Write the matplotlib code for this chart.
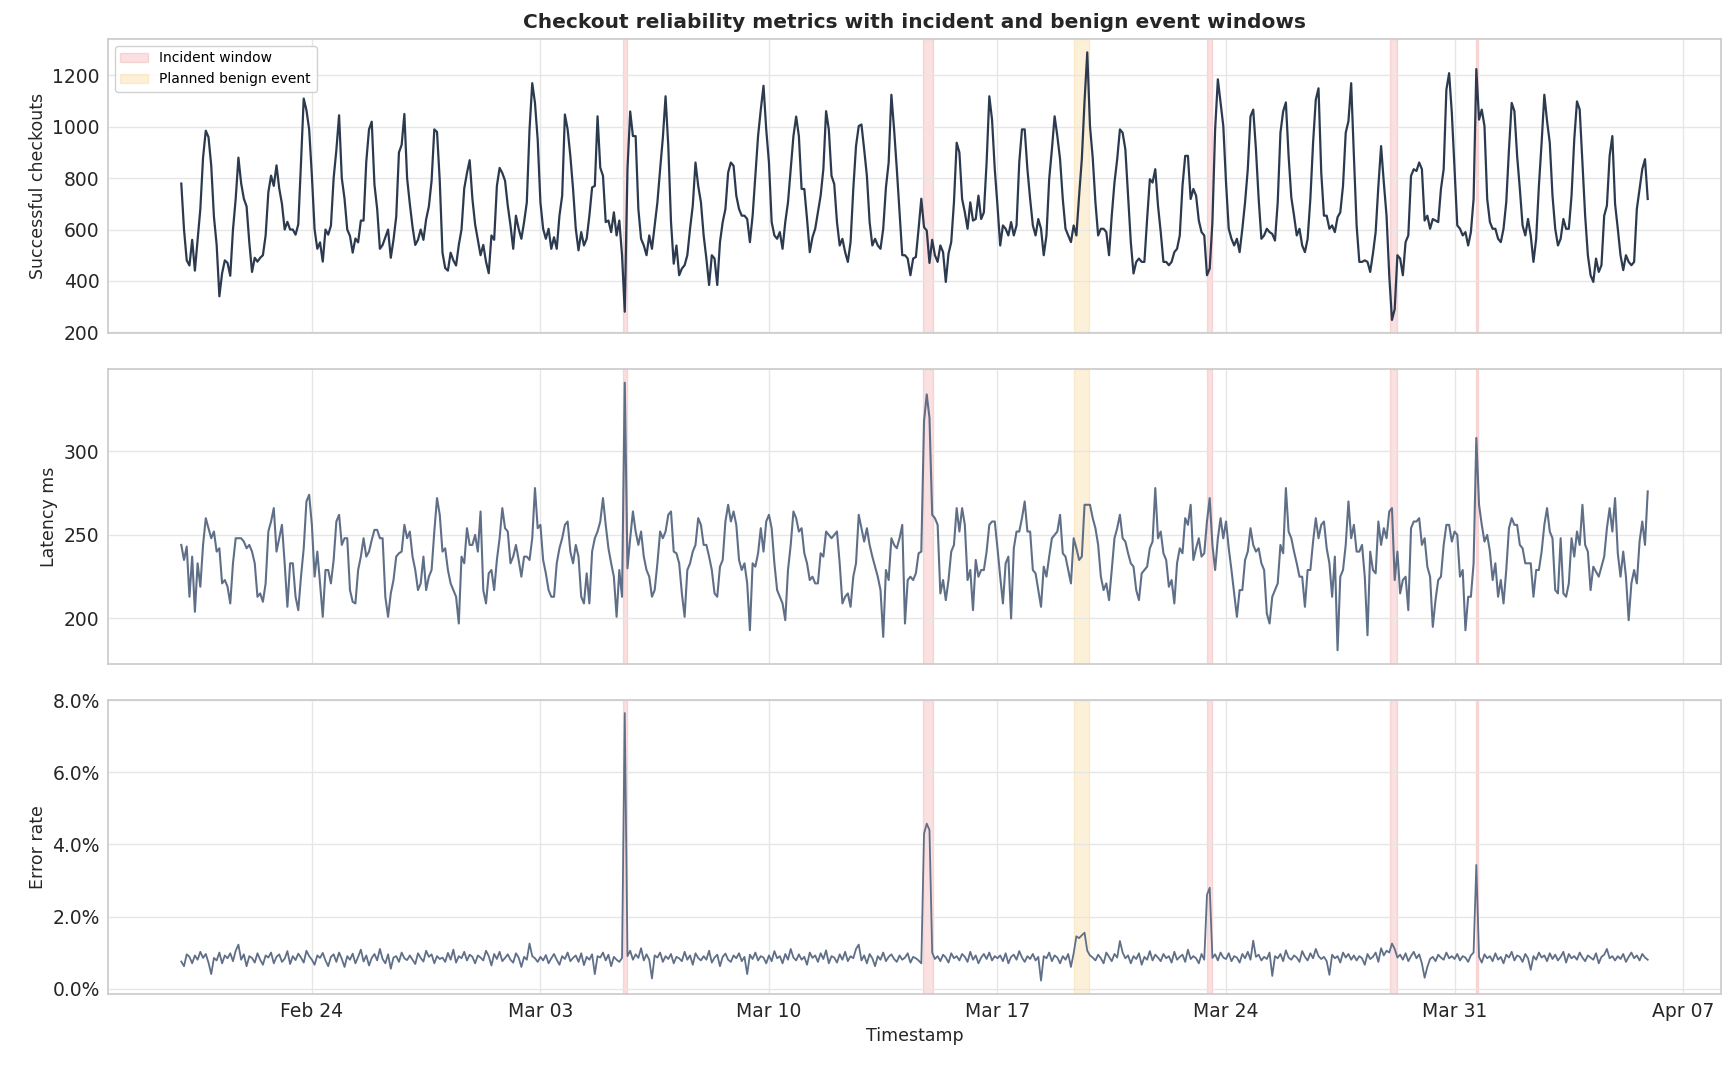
import numpy as np
import pandas as pd
import matplotlib
matplotlib.use("Agg")
import matplotlib.pyplot as plt
import matplotlib.dates as mdates
from matplotlib.ticker import PercentFormatter, MultipleLocator

# ---------------- data (2-hourly samples, one row per day) ----------------
START = "2025-02-20 00:00"
STEP = "2h"

CHECKOUTS = [
    [779, 600, 480, 460, 560, 440, 560, 680, 880, 985, 960, 850],    # Feb 20
    [650, 540, 340, 430, 480, 470, 420, 600, 720, 880, 780, 720],
    [690, 550, 435, 490, 475, 490, 500, 577, 745, 810, 770, 850],
    [760, 700, 600, 630, 600, 600, 580, 620, 860, 1110, 1065, 990],
    [810, 600, 525, 550, 475, 600, 580, 615, 800, 910, 1045, 800],  # Feb 24
    [720, 600, 575, 510, 565, 550, 635, 635, 865, 990, 1020, 775],
    [680, 525, 540, 570, 600, 490, 560, 650, 900, 930, 1050, 800],
    [700, 610, 540, 560, 600, 560, 640, 690, 790, 990, 980, 790],
    [510, 450, 440, 510, 480, 460, 540, 600, 760, 820, 870, 720],
    [620, 560, 500, 540, 475, 430, 577, 560, 770, 840, 820, 790],    # Mar 1
    [693, 616, 525, 654, 603, 564, 629, 706, 990, 1170, 1093, 950],
    [706, 603, 564, 603, 525, 570, 525, 654, 732, 1048, 990, 887],   # Mar 3
    [758, 603, 519, 590, 538, 564, 654, 764, 770, 1041, 841, 809],
    [629, 635, 590, 667, 577, 635, 500, 280, 835, 1060, 964, 964],   # Mar 5
    [680, 564, 538, 500, 577, 525, 616, 706, 835, 957, 1119, 925],
    [629, 467, 538, 422, 448, 461, 500, 603, 693, 861, 770, 706],
    [577, 487, 384, 500, 487, 384, 551, 629, 680, 822, 861, 848],
    [732, 680, 654, 654, 641, 551, 654, 809, 964, 1067, 1160, 990],
    [861, 629, 577, 564, 590, 525, 629, 706, 835, 964, 1040, 964],   # Mar 10
    [758, 758, 641, 512, 570, 603, 667, 732, 835, 1061, 990, 809],
    [777, 629, 538, 564, 512, 474, 551, 758, 925, 1003, 1009, 912],
    [809, 629, 538, 564, 538, 525, 603, 764, 861, 1125, 990, 835],
    [667, 500, 500, 487, 422, 487, 493, 603, 720, 609, 596, 470],    # Mar 14
    [560, 500, 474, 538, 512, 396, 506, 551, 706, 938, 900, 719],
    [667, 603, 706, 635, 641, 732, 641, 667, 861, 1119, 1028, 835],
    [693, 538, 616, 603, 577, 629, 577, 616, 861, 990, 990, 835],    # Mar 17
    [719, 616, 577, 641, 603, 500, 577, 796, 912, 1041, 964, 874],
    [719, 603, 577, 551, 616, 577, 732, 874, 1100, 1290, 1003, 880], # Mar 19
    [706, 577, 603, 603, 590, 500, 654, 783, 874, 990, 977, 912],
    [732, 551, 429, 474, 487, 474, 474, 641, 796, 783, 835, 693],
    [590, 474, 474, 461, 474, 512, 525, 577, 770, 887, 887, 719],
    [758, 732, 635, 590, 577, 422, 448, 629, 990, 1185, 1093, 1003], # Mar 23
    [783, 603, 564, 538, 564, 512, 603, 706, 835, 1041, 1067, 912],  # Mar 24
    [719, 564, 577, 603, 590, 583, 557, 706, 977, 1060, 1095, 887],
    [725, 654, 577, 603, 538, 512, 564, 719, 938, 1106, 1150, 822],
    [654, 654, 603, 616, 590, 648, 667, 770, 977, 1022, 1170, 887],
    [616, 474, 474, 480, 474, 435, 506, 590, 770, 925, 783, 654],
    [420, 248, 290, 500, 487, 422, 551, 577, 809, 835, 828, 861],    # Mar 29
    [835, 635, 654, 603, 641, 635, 629, 758, 835, 1145, 1209, 1054],
    [835, 616, 603, 577, 590, 538, 590, 719, 1225, 1028, 1067, 1003],# Mar 31
    [719, 629, 603, 603, 564, 551, 603, 706, 912, 1093, 1061, 887],
    [758, 616, 577, 641, 577, 474, 564, 770, 938, 1125, 1022, 938],
    [732, 603, 538, 564, 641, 603, 603, 732, 951, 1099, 1067, 861],
    [654, 500, 422, 396, 487, 435, 461, 654, 693, 887, 964, 700],
    [603, 500, 442, 500, 474, 461, 474, 680, 758, 835, 874, 719],    # Apr 5
]

LATENCY_MS = [
    [244, 235, 243, 213, 237, 204, 233, 219, 244, 260, 254, 248],
    [252, 240, 242, 221, 223, 219, 209, 233, 248, 248, 248, 246],
    [242, 244, 240, 233, 213, 215, 210, 221, 252, 258, 266, 240],
    [248, 256, 233, 207, 233, 233, 213, 205, 225, 242, 270, 274],
    [256, 225, 240, 221, 201, 229, 229, 221, 235, 258, 262, 244],
    [248, 248, 217, 210, 209, 229, 237, 248, 237, 240, 247, 253],
    [253, 248, 248, 213, 201, 215, 223, 237, 239, 240, 256, 248],
    [252, 237, 229, 217, 221, 237, 217, 225, 229, 252, 272, 262],
    [240, 242, 229, 221, 217, 213, 197, 237, 233, 254, 244, 244],
    [250, 240, 264, 217, 209, 227, 229, 217, 235, 248, 266, 254],
    [252, 233, 237, 244, 235, 225, 237, 237, 235, 248, 278, 254],
    [256, 235, 227, 217, 213, 213, 233, 242, 248, 256, 258, 240],
    [233, 244, 237, 213, 209, 227, 209, 240, 248, 252, 258, 272],
    [256, 242, 233, 225, 201, 229, 213, 341, 230, 248, 264, 252],
    [244, 252, 237, 229, 225, 213, 217, 233, 252, 248, 252, 262],
    [264, 240, 239, 233, 215, 201, 229, 233, 240, 244, 260, 256],
    [244, 244, 237, 229, 215, 213, 231, 235, 258, 268, 258, 264],
    [256, 235, 229, 233, 221, 193, 233, 231, 239, 254, 240, 258],
    [262, 254, 233, 217, 213, 209, 199, 229, 244, 264, 260, 252],
    [254, 239, 233, 223, 225, 221, 221, 239, 237, 252, 250, 248],
    [250, 252, 233, 209, 213, 215, 207, 225, 233, 262, 254, 246],
    [254, 244, 237, 231, 225, 217, 189, 229, 223, 248, 244, 242],
    [248, 256, 197, 223, 225, 223, 227, 239, 240, 318, 334, 320],
    [262, 260, 256, 215, 223, 211, 223, 240, 244, 266, 252, 266],
    [256, 223, 229, 205, 235, 225, 229, 229, 240, 256, 258, 258],
    [242, 225, 209, 233, 237, 200, 242, 252, 252, 260, 270, 252],
    [252, 229, 227, 217, 207, 231, 225, 237, 248, 250, 252, 262],
    [239, 237, 229, 221, 248, 242, 235, 237, 268, 268, 268, 260],
    [254, 244, 225, 217, 221, 211, 229, 248, 254, 262, 248, 246],
    [239, 233, 231, 217, 211, 227, 229, 231, 242, 246, 278, 248],
    [252, 239, 235, 219, 223, 209, 233, 242, 239, 260, 256, 268],
    [235, 242, 248, 237, 239, 258, 272, 244, 229, 248, 260, 248],
    [258, 242, 229, 215, 201, 217, 217, 235, 240, 254, 244, 240],
    [242, 233, 229, 203, 197, 213, 217, 221, 244, 239, 278, 252],
    [248, 240, 233, 225, 225, 207, 229, 229, 246, 260, 248, 256],
    [258, 242, 233, 213, 237, 181, 225, 229, 244, 270, 248, 256],
    [240, 240, 244, 225, 190, 240, 229, 227, 258, 244, 254, 248],
    [264, 266, 223, 240, 215, 223, 225, 205, 254, 258, 258, 260],
    [244, 248, 231, 225, 195, 211, 223, 225, 244, 256, 256, 246],
    [252, 250, 225, 229, 193, 213, 213, 233, 308, 268, 256, 246],
    [250, 240, 223, 233, 213, 223, 209, 229, 254, 260, 256, 256],
    [244, 242, 233, 233, 233, 213, 229, 229, 240, 256, 266, 252],
    [248, 217, 215, 248, 215, 213, 221, 248, 237, 252, 244, 268],
    [244, 240, 217, 231, 228, 225, 231, 237, 254, 266, 252, 272],
    [239, 225, 240, 225, 199, 221, 229, 221, 246, 258, 244, 276],
]

ERROR_RATE_PCT = [
    [0.75, 0.62, 0.95, 0.88, 0.70, 0.92, 0.80, 1.02, 0.85, 0.96, 0.72, 0.40],
    [0.85, 0.78, 1.00, 0.70, 0.92, 0.84, 0.98, 0.76, 1.05, 1.22, 0.80, 0.95],
    [0.62, 0.90, 0.85, 0.72, 0.98, 0.80, 0.66, 0.92, 0.86, 1.00, 0.70, 0.88],
    [0.95, 0.74, 0.83, 1.04, 0.68, 0.90, 0.79, 0.97, 0.86, 0.72, 1.05, 0.90],
    [0.80, 0.66, 0.92, 0.85, 0.99, 0.78, 0.62, 0.88, 0.95, 0.74, 1.00, 0.82],
    [0.60, 0.90, 0.80, 0.97, 0.70, 0.88, 1.08, 0.75, 0.92, 0.64, 0.85, 0.96],
    [0.78, 1.10, 0.82, 0.70, 0.95, 0.55, 0.86, 0.90, 0.74, 1.00, 0.84, 0.79],
    [0.92, 0.80, 0.68, 0.98, 0.85, 0.75, 1.05, 0.88, 0.95, 0.70, 0.90, 0.82],
    [0.86, 0.74, 0.99, 0.80, 1.08, 0.72, 0.90, 0.84, 1.02, 0.78, 0.94, 0.88],
    [0.70, 0.92, 0.86, 0.78, 1.05, 0.90, 0.64, 0.96, 0.82, 1.02, 0.76, 0.85],
    [0.95, 0.80, 0.72, 0.98, 0.86, 0.60, 0.88, 0.80, 1.25, 0.90, 0.84, 0.74],
    [0.88, 0.78, 0.93, 0.70, 0.84, 0.96, 0.80, 0.66, 0.90, 0.82, 1.00, 0.76],
    [0.85, 0.92, 0.74, 0.98, 0.65, 0.88, 0.80, 0.95, 0.40, 0.90, 0.86, 1.00],
    [0.78, 0.94, 0.62, 0.88, 0.80, 0.74, 0.85, 7.65, 0.90, 1.05, 0.80, 0.95],
    [0.85, 1.12, 0.78, 0.95, 0.80, 0.28, 0.92, 0.86, 1.00, 0.74, 0.90, 0.82],
    [0.96, 0.70, 0.88, 0.84, 0.76, 1.02, 0.80, 0.92, 0.66, 0.98, 0.85, 0.78],
    [0.90, 0.80, 1.05, 0.72, 0.86, 0.94, 0.62, 0.88, 0.97, 0.80, 0.74, 0.92],
    [0.84, 0.98, 0.76, 0.88, 0.40, 0.94, 0.82, 1.00, 0.78, 0.90, 0.86, 0.70],
    [0.92, 0.76, 1.04, 0.84, 0.90, 0.70, 0.96, 0.80, 1.10, 0.86, 0.78, 0.95],
    [0.80, 0.88, 0.66, 1.00, 0.85, 0.92, 0.74, 0.98, 0.82, 1.06, 0.70, 0.90],
    [0.86, 0.72, 0.95, 0.80, 1.02, 0.76, 0.90, 0.84, 1.10, 1.22, 0.78, 0.92],
    [0.70, 0.96, 0.84, 0.62, 0.90, 0.80, 1.00, 0.76, 0.88, 0.95, 0.82, 0.74],
    [0.92, 0.80, 0.86, 0.98, 0.72, 0.88, 0.84, 0.78, 0.70, 4.30, 4.58, 4.40],
    [1.00, 0.82, 0.90, 0.76, 0.94, 0.86, 0.72, 0.98, 0.84, 0.90, 0.78, 0.96],
    [0.88, 0.74, 1.02, 0.80, 0.92, 0.70, 0.86, 0.96, 0.82, 1.00, 0.78, 0.90],
    [0.84, 0.92, 0.76, 0.98, 0.70, 0.88, 0.94, 0.80, 1.04, 0.86, 0.74, 0.90],
    [0.82, 0.96, 0.78, 0.88, 0.22, 0.90, 0.84, 1.00, 0.76, 0.92, 0.86, 0.70],
    [0.90, 0.80, 0.96, 0.60, 0.98, 1.45, 1.40, 1.48, 1.55, 1.05, 0.92, 0.86],
    [0.78, 0.94, 0.84, 0.70, 1.00, 0.88, 0.76, 0.96, 0.86, 1.32, 1.00, 0.84],
    [0.92, 0.70, 0.90, 0.82, 0.98, 0.66, 0.88, 0.80, 1.04, 0.78, 0.94, 0.86],
    [0.76, 0.96, 0.84, 0.90, 0.72, 1.02, 0.80, 0.88, 0.94, 0.74, 1.08, 0.82],
    [0.90, 0.84, 0.70, 0.96, 0.80, 2.60, 2.80, 0.85, 0.95, 0.78, 1.00, 0.86],
    [0.82, 0.98, 0.76, 0.90, 0.86, 0.72, 0.96, 0.84, 1.02, 0.80, 1.33, 0.88],
    [0.94, 0.78, 0.88, 0.82, 1.00, 0.35, 0.90, 0.84, 0.96, 0.76, 1.06, 0.86],
    [0.80, 0.92, 0.86, 0.74, 1.04, 0.88, 0.78, 0.98, 0.84, 1.10, 0.90, 0.82],
    [0.88, 0.76, 0.38, 0.94, 0.84, 0.90, 0.72, 1.00, 0.86, 0.96, 0.80, 0.92],
    [0.78, 0.90, 0.84, 0.66, 0.96, 0.82, 0.88, 1.00, 0.74, 1.12, 0.92, 1.05],
    [1.00, 1.25, 1.10, 0.86, 0.94, 0.80, 0.98, 0.76, 0.90, 1.02, 0.84, 0.95],
    [0.70, 0.30, 0.60, 0.82, 0.88, 0.76, 0.94, 0.86, 0.80, 1.00, 0.84, 0.90],
    [0.82, 0.96, 0.78, 0.90, 0.86, 0.74, 0.92, 1.00, 3.43, 0.88, 0.72, 0.95],
    [0.84, 0.90, 0.76, 0.98, 0.80, 0.88, 0.70, 0.94, 0.86, 1.02, 0.78, 0.92],
    [0.88, 0.74, 0.96, 0.84, 0.52, 0.90, 0.80, 1.00, 0.86, 0.92, 0.76, 0.98],
    [0.82, 0.94, 0.78, 0.88, 1.02, 0.72, 0.96, 0.84, 0.90, 0.80, 1.00, 0.86],
    [0.76, 0.92, 0.86, 0.80, 0.98, 0.70, 0.88, 0.94, 1.10, 0.84, 0.90, 0.78],
    [0.90, 0.82, 0.96, 0.74, 0.88, 1.00, 0.84, 0.92, 0.78, 0.96, 0.86, 0.80],
]

INCIDENT_START = ["2025-03-05 13:00", "2025-03-14 17:30", "2025-03-23 09:45",
                  "2025-03-29 00:30", "2025-03-31 16:00"]
INCIDENT_END = ["2025-03-05 16:00", "2025-03-15 00:45", "2025-03-23 13:40",
                "2025-03-29 05:45", "2025-03-31 17:00"]
BENIGN_START = ["2025-03-19 08:30"]
BENIGN_END = ["2025-03-19 19:15"]

TITLE = "Checkout reliability metrics with incident and benign event windows"
YLABELS = ["Successful checkouts", "Latency ms", "Error rate"]
XLABEL = "Timestamp"

# ---------------- styling ----------------
checkouts = np.ravel(CHECKOUTS)
latency = np.ravel(LATENCY_MS)
error_pct = np.ravel(ERROR_RATE_PCT)
ts = pd.date_range(START, periods=len(checkouts), freq=STEP)

DARK = "#2c3a50"
SLATE = "#5f6f88"
INC_COLOR = "#e8585a"
BEN_COLOR = "#f5b642"
TEXT = "#262626"

plt.rcParams["font.family"] = ["DejaVu Sans"]

fig, axes = plt.subplots(3, 1, figsize=(17.33, 10.71), dpi=100, sharex=True)
fig.subplots_adjust(left=0.0623, right=0.9931, top=0.9636, bottom=0.0719, hspace=0.1224)

series = [checkouts, latency, error_pct]
colors = [DARK, SLATE, SLATE]
widths = [1.6, 1.5, 1.3]

for i, ax in enumerate(axes):
    ax.set_facecolor("white")
    for j, (s, e) in enumerate(zip(INCIDENT_START, INCIDENT_END)):
        ax.axvspan(pd.Timestamp(s), pd.Timestamp(e), color=INC_COLOR, alpha=0.18, lw=1,
                   zorder=0, label="Incident window" if j == 0 else None)
    for j, (s, e) in enumerate(zip(BENIGN_START, BENIGN_END)):
        ax.axvspan(pd.Timestamp(s), pd.Timestamp(e), color=BEN_COLOR, alpha=0.2, lw=1,
                   zorder=0, label="Planned benign event" if j == 0 else None)
    ax.plot(ts, series[i], color=colors[i], lw=widths[i], zorder=3)
    ax.grid(True, color="#e6e6e6", lw=1.0, zorder=1)
    ax.set_axisbelow(True)
    for sp in ax.spines.values():
        sp.set_color("#cccccc")
        sp.set_linewidth(1.25)
    ax.tick_params(length=0, labelsize=13.5, colors=TEXT, pad=6)
    ax.set_ylabel(YLABELS[i], fontsize=12.5, color=TEXT)

axes[0].yaxis.set_major_locator(MultipleLocator(200))
axes[1].yaxis.set_major_locator(MultipleLocator(50))
axes[2].yaxis.set_major_locator(MultipleLocator(2))
axes[2].yaxis.set_major_formatter(PercentFormatter(100, decimals=1))

axes[2].xaxis.set_major_locator(mdates.WeekdayLocator(byweekday=mdates.MO))
axes[2].xaxis.set_major_formatter(mdates.DateFormatter("%b %d"))
axes[2].set_xlabel(XLABEL, fontsize=12.5, color=TEXT)

axes[0].set_title(TITLE, fontsize=14.5, fontweight="bold", color=TEXT, pad=8)
leg = axes[0].legend(loc="upper left", fontsize=10, frameon=True, framealpha=0.9,
                     edgecolor="#cccccc", fancybox=True)

fig.savefig("out.png", dpi=100)
